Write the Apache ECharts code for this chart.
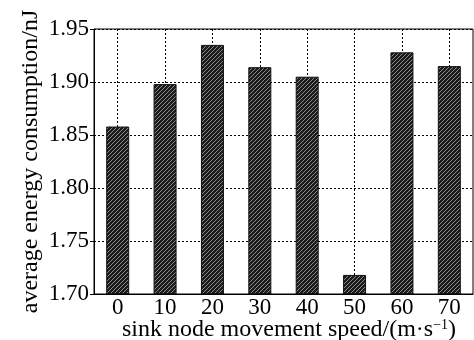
<!DOCTYPE html>
<html><head><meta charset="utf-8">
<script src="https://cdn.jsdelivr.net/npm/echarts@6/dist/echarts.min.js"></script>
<style>html,body{margin:0;padding:0;background:#fff}#c{width:474px;height:340px}</style>
</head><body><div id="c"></div>
<script>
var categories = ['0','10','20','30','40','50','60','70'];
var values = [1.858, 1.898, 1.935, 1.914, 1.905, 1.718, 1.928, 1.915];
var yTicks = {min: 1.70, max: 1.95, interval: 0.05};

function hatch(){
  var s = 4, cv = document.createElement('canvas');
  cv.width = s; cv.height = s;
  var g = cv.getContext('2d');
  g.fillStyle = '#1c1c1c'; g.fillRect(0,0,s,s);
  g.strokeStyle = '#8a8a8a'; g.lineWidth = 1;
  g.beginPath();
  g.moveTo(0,s); g.lineTo(s,0);
  g.moveTo(-1,1); g.lineTo(1,-1);
  g.moveTo(s-1,s+1); g.lineTo(s+1,s-1);
  g.stroke();
  return cv;
}

var font = 'Liberation Serif';
var chart = echarts.init(document.getElementById('c'));
chart.setOption({
  animation: false,
  grid: {left: 94, right: 1, top: 29, bottom: 46, show: false, containLabel: false, outerBoundsMode: 'none'},
  xAxis: {
    type: 'category', data: categories,
    name: '{a|sink node movement speed/(m·s}{s|−1}{a|)}',
    nameLocation: 'middle', nameGap: 24, nameMoveOverlap: false,
    nameTextStyle: {padding: [0, 0, 0, 11], rich: {
      a: {fontFamily: font, fontSize: 24, color: '#000', lineHeight: 24},
      s: {fontFamily: font, fontSize: 14, color: '#000', verticalAlign: 'top', lineHeight: 24}
    }},
    axisLine: {onZero: false, lineStyle: {color: '#000', width: 1}},
    axisTick: {show: false, alignWithLabel: true},
    axisLabel: {fontFamily: font, fontSize: 23, color: '#000', margin: 2},
    splitLine: {show: true, alignWithLabel: true, lineStyle: {color: '#000', type: [2,2], width: 1}}
  },
  yAxis: {
    type: 'value', min: yTicks.min, max: yTicks.max, interval: yTicks.interval,
    name: 'average energy consumption/nJ',
    nameLocation: 'middle', nameGap: 51, nameMoveOverlap: false,
    nameTextStyle: {fontFamily: font, fontSize: 24, color: '#000'},
    axisLine: {show: true, lineStyle: {color: '#000', width: 1}},
    axisTick: {show: true, inside: false, length: 4, lineStyle: {color: '#000'}},
    axisLabel: {fontFamily: font, fontSize: 23, color: '#000', margin: 5,
      formatter: function(v){ return v.toFixed(2); }},
    splitLine: {show: true, lineStyle: {color: '#000', type: [2,2], width: 1}}
  },
  series: [{
    type: 'bar', data: values, barWidth: 23,
    itemStyle: {color: {image: hatch(), repeat: 'repeat'}, borderColor: '#111', borderWidth: 1}
  }],
  graphic: [{
    type: 'rect', shape: {x: 94, y: 29, width: 379, height: 265},
    style: {fill: 'none', stroke: '#000', lineWidth: 1}, silent: true, z: 10
  }]
});
</script></body></html>
